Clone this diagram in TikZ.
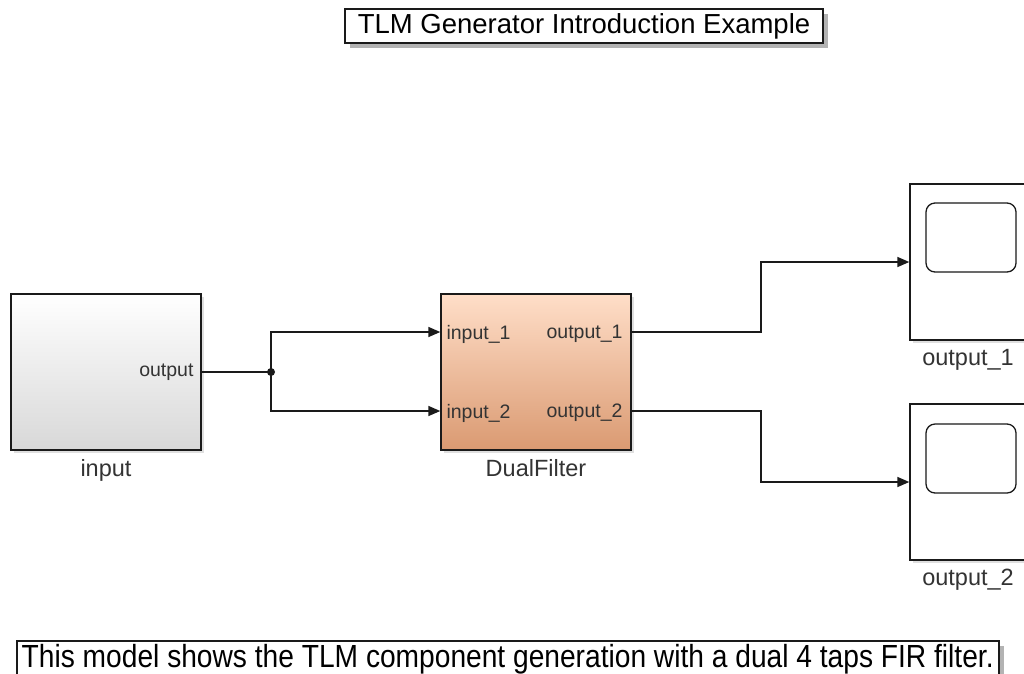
\documentclass[tikz,border=0pt]{standalone}
\usepackage{fontspec}
\setmainfont{Liberation Sans}
\newfontfamily\narrowfont[FakeStretch=0.88]{Liberation Sans}
\usetikzlibrary{arrows.meta,positioning,shadows,calc}
\definecolor{inputtop}{HTML}{FFFFFF}
\definecolor{inputbottom}{HTML}{D8D8D8}
\definecolor{filtertop}{HTML}{FFDEC8}
\definecolor{filterbottom}{HTML}{DA9A72}
\definecolor{ink}{HTML}{1A1A1A}
\definecolor{labelgrey}{HTML}{333333}

\begin{document}
\begin{tikzpicture}[
  x=1pt, y=-1pt,
  >=Triangle,
  block/.style={draw=ink, line width=1.4pt, minimum width=190pt, minimum height=156pt,
    inner sep=0pt, drop shadow={shadow xshift=3pt, shadow yshift=-3pt, opacity=0.25}},
  sourceblock/.style={block, top color=inputtop, bottom color=inputbottom},
  filterblock/.style={block, top color=filtertop, bottom color=filterbottom},
  scopeblock/.style={block, fill=white, minimum width=124pt},
  screen/.style={draw=ink, line width=1.3pt, rounded corners=9pt, fill=white,
    minimum width=90pt, minimum height=69pt},
  port/.style={font=\fontsize{19.5}{22}\selectfont, text=labelgrey, inner sep=0pt},
  blocklabel/.style={font=\fontsize{23.5}{27}\selectfont, text=labelgrey, inner sep=0pt},
  banner/.style={draw=ink, line width=1.5pt, fill=white, inner sep=0pt,
    drop shadow={shadow xshift=5pt, shadow yshift=-5pt, opacity=0.6}},
  wire/.style={line width=1.6pt, draw=ink},
  arrow/.style={wire, -{Triangle[length=12pt, width=10pt]}}
]
\clip (0,0) rectangle (1024,673);

% title and description
\node[banner, minimum width=478pt, minimum height=34pt,
  font=\fontsize{27.5}{32}\selectfont] (title) at (584,26) {TLM Generator Introduction Example};
\node[banner, anchor=north west, minimum width=982pt, minimum height=36pt,
  font=\narrowfont\fontsize{32}{36}\selectfont] (desc) at (16,640)
  {This model shows the TLM component generation with a dual 4 taps FIR filter.};

% blocks
\node[sourceblock] (input) at (106,372) {};
\node[port, anchor=east] (inout) at ([xshift=-8pt]input.east) {output};
\node[blocklabel, below=9pt of input] (inputname) {input};

\node[filterblock] (filter) at (536,372) {};
\coordinate (in1) at ([yshift=40pt]filter.west);
\coordinate (in2) at ([yshift=-39pt]filter.west);
\coordinate (out1) at ([yshift=40pt]filter.east);
\coordinate (out2) at ([yshift=-39pt]filter.east);
\node[port, anchor=west] (in1lab) at ([xshift=6pt,yshift=-2pt]in1) {input\_1};
\node[port, anchor=west] (in2lab) at ([xshift=6pt,yshift=-2pt]in2) {input\_2};
\node[port, anchor=east] (out1lab) at ([xshift=-9pt,yshift=-2pt]out1) {output\_1};
\node[port, anchor=east] (out2lab) at ([xshift=-9pt,yshift=-2pt]out2) {output\_2};
\node[blocklabel, below=9pt of filter] (filtername) {DualFilter};

\node[scopeblock] (scope1) at (972,262) {};
\node[screen] (screen1) at (971,237.5) {};
\node[blocklabel] (scope1name) at (968,360) {output\_1};
\node[scopeblock] (scope2) at (972,482) {};
\node[screen] (screen2) at (971,458.5) {};
\node[blocklabel] (scope2name) at (968,580) {output\_2};

% signal lines
\coordinate (split) at (271,372);
\draw[wire] (input.east) -- (split);
\fill[ink] (split) circle (4pt);
\draw[arrow] (split) |- (in1);
\draw[arrow] (split) |- (in2);
\coordinate (bend) at (761,0);
\draw[arrow] (out1) -| (bend |- scope1.west) -- (scope1.west);
\draw[arrow] (out2) -| (bend |- scope2.west) -- (scope2.west);
\end{tikzpicture}
\end{document}
